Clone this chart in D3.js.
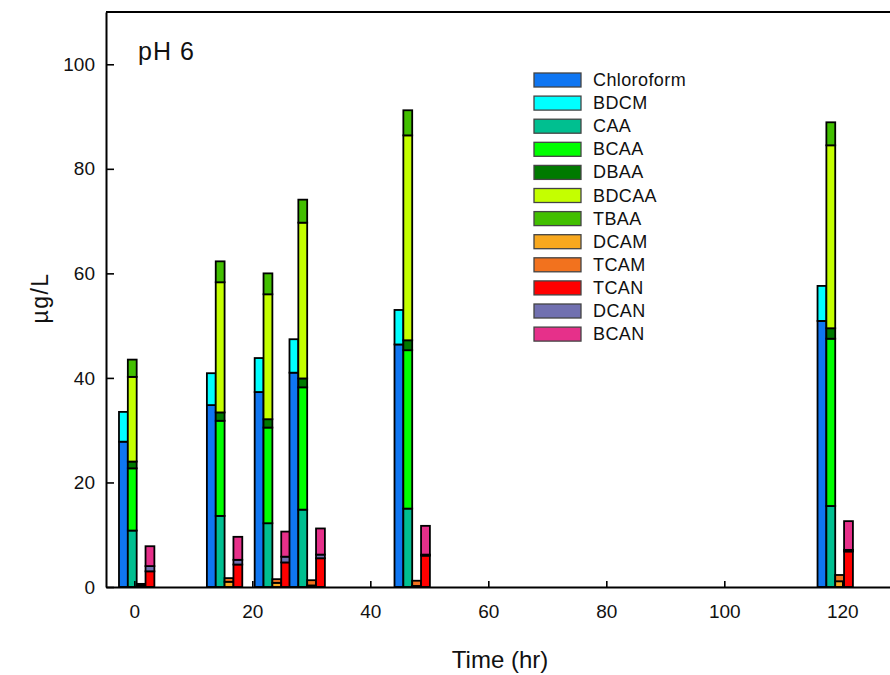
<!DOCTYPE html>
<html>
<head>
<meta charset="utf-8">
<script src="https://cdn.jsdelivr.net/npm/d3@7"></script>
<style>
  html, body { margin: 0; padding: 0; background: #fff; }
  svg { display: block; font-family: "Liberation Sans", Arial, sans-serif; }
</style>
</head>
<body>
<svg id="chart" width="890" height="675"></svg>
<script>
// ---- data ----
const times      = [0.4, 15.3, 23.4, 29.3, 47.1, 118.8];
const chloroform = [27.8, 34.8, 37.3, 41.0, 46.4, 50.9];
const bdcm       = [5.7, 6.1, 6.5, 6.4, 6.6, 6.7];
const caa        = [10.8, 13.6, 12.2, 14.8, 15.0, 15.5];
const bcaa       = [11.9, 18.2, 18.3, 23.4, 30.3, 32.0];
const dbaa       = [1.3, 1.6, 1.6, 1.7, 1.9, 2.0];
const bdcaa      = [16.2, 24.9, 23.9, 29.8, 39.2, 35.0];
const tbaa       = [3.3, 4.0, 4.0, 4.4, 4.8, 4.4];
const dcam       = [0.3, 1.0, 0.8, 0.3, 0.2, 1.1];
const tcam       = [0.3, 0.7, 0.7, 1.0, 1.0, 1.2];
const tcan       = [3.0, 4.3, 4.7, 5.5, 6.0, 6.8];
const dcan       = [1.0, 0.9, 1.1, 0.7, 0.2, 0.3];
const bcan       = [3.8, 4.4, 4.8, 5.0, 5.5, 5.5];

const xTicks = [0, 20, 40, 60, 80, 100, 120];
const yTicks = [0, 20, 40, 60, 80, 100];

const seriesNames = ["Chloroform","BDCM","CAA","BCAA","DBAA","BDCAA","TBAA","DCAM","TCAM","TCAN","DCAN","BCAN"];
const seriesValues = [chloroform, bdcm, caa, bcaa, dbaa, bdcaa, tbaa, dcam, tcam, tcan, dcan, bcan];
const seriesColors = ["#0f76f2","#00ffff","#00bf90","#00ff00","#007a00","#c4ff00","#42bf00","#f8a81e","#f2721e","#ff0000","#7170b0","#e6308a"];
// which bar of the group each series is stacked in: 0 THMs, 1 HAAs, 2 HAMs, 3 HANs
const seriesGroup = [0,0,1,1,1,1,1,2,2,3,3,3];

// ---- scales ----
const x = d3.scaleLinear().domain([-4.8, 130]).range([106, 901.3]);
const y = d3.scaleLinear().domain([0, 110]).range([587, 12]);
const barW = 1.5; // width of one bar in time units

const svg = d3.select("#chart");

// ---- bars ----
const rects = [];
times.forEach((t, i) => {
  const base = [0, 0, 0, 0];
  seriesValues.forEach((vals, s) => {
    const g = seriesGroup[s];
    const v = vals[i];
    const x0 = t + (g - 2) * barW;
    rects.push({x0, x1: x0 + barW, y0: base[g], y1: base[g] + v, color: seriesColors[s]});
    base[g] += v;
  });
});

svg.append("g").selectAll("rect").data(rects).join("rect")
  .attr("x", d => x(d.x0))
  .attr("width", d => x(d.x1) - x(d.x0))
  .attr("y", d => y(d.y1))
  .attr("height", d => y(d.y0) - y(d.y1))
  .attr("fill", d => d.color)
  .attr("stroke", "#000")
  .attr("stroke-width", 1.8);

// ---- axes ----
const xAxis = d3.axisBottom(x).tickValues(xTicks).tickSizeInner(-6).tickSizeOuter(0).tickPadding(14);
const yAxis = d3.axisLeft(y).tickValues(yTicks).tickSizeInner(-8).tickSizeOuter(0).tickPadding(10);

const gx = svg.append("g").attr("transform", `translate(0,${y(0)})`).call(xAxis);
const gy = svg.append("g").attr("transform", `translate(${x(-4.8)},0)`).call(yAxis);
[gx, gy].forEach(g => {
  g.select(".domain").attr("stroke", "#000").attr("stroke-width", 2);
  g.selectAll(".tick line").attr("stroke", "#000").attr("stroke-width", 1.6);
  g.selectAll(".tick text").attr("font-size", 19).attr("fill", "#111")
    .attr("font-family", "Liberation Sans, Arial, sans-serif");
});
gy.selectAll(".tick text").attr("dx", -1);
gx.selectAll(".tick text").attr("dy", "0.9em");

// top frame line
svg.append("line")
  .attr("x1", x(-4.8)).attr("x2", 890)
  .attr("y1", y(110)).attr("y2", y(110))
  .attr("stroke", "#000").attr("stroke-width", 2);

// ---- labels ----
svg.append("text").attr("x", 138).attr("y", 60)
  .attr("font-size", 25).attr("letter-spacing", 1).attr("fill", "#111").text("pH 6");

svg.append("text").attr("x", 500).attr("y", 668).attr("text-anchor", "middle")
  .attr("font-size", 24).attr("fill", "#111").text("Time (hr)");

svg.append("text")
  .attr("transform", "translate(48,298) rotate(-90)")
  .attr("text-anchor", "middle").attr("font-size", 23).attr("letter-spacing", 1.5)
  .attr("fill", "#111").text("µg/L");

// ---- legend ----
const legend = svg.append("g").attr("transform", "translate(534,73)");
const items = legend.selectAll("g").data(seriesNames).join("g")
  .attr("transform", (d, i) => `translate(0,${i * 23.1})`);
items.append("rect").attr("width", 47).attr("height", 14)
  .attr("fill", (d, i) => seriesColors[i]).attr("stroke", "#444").attr("stroke-width", 1.3);
items.append("text").attr("x", 59).attr("y", 13)
  .attr("font-size", 18).attr("letter-spacing", 0.4).attr("fill", "#111").text(d => d);
</script>
</body>
</html>
